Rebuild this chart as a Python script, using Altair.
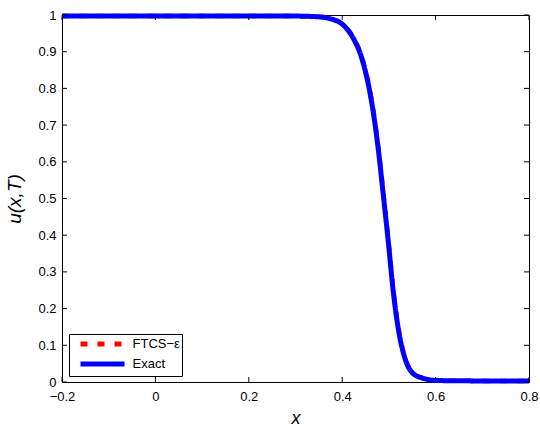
import altair as alt
import pandas as pd

# ---- data ----
series_names = ["FTCS\u2212\u03b5", "Exact"]

x_exact = [-0.2, 0.0, 0.2, 0.30, 0.35, 0.374, 0.402, 0.424, 0.442, 0.452, 0.463,
           0.477, 0.488, 0.500, 0.508, 0.520, 0.534, 0.552, 0.574, 0.602, 0.7, 0.8]
u_exact = [0.997, 0.997, 0.997, 0.997, 0.995, 0.990, 0.973, 0.936, 0.882, 0.834, 0.763,
           0.637, 0.510, 0.366, 0.262, 0.146, 0.066, 0.023, 0.010, 0.004, 0.003, 0.003]

x_ftcs = [-0.2, 0.0, 0.2, 0.30, 0.35, 0.374, 0.402, 0.424, 0.442, 0.452, 0.463,
          0.477, 0.488, 0.500, 0.508, 0.520, 0.534, 0.552, 0.574, 0.602, 0.7, 0.8]
u_ftcs = [0.997, 0.997, 0.997, 0.997, 0.995, 0.990, 0.974, 0.938, 0.885, 0.838, 0.768,
          0.643, 0.516, 0.372, 0.267, 0.150, 0.068, 0.024, 0.010, 0.004, 0.003, 0.003]

x_ticks = [-0.2, 0.0, 0.2, 0.4, 0.6, 0.8]
y_ticks = [0.0, 0.1, 0.2, 0.3, 0.4, 0.5, 0.6, 0.7, 0.8, 0.9, 1.0]

# ---- layout constants ----
W, H = 467, 367
TICK = 5
FONT = "Liberation Sans"

df = pd.concat([
    pd.DataFrame({"x": x_ftcs, "u": u_ftcs, "series": series_names[0]}),
    pd.DataFrame({"x": x_exact, "u": u_exact, "series": series_names[1]}),
], ignore_index=True)
xt = pd.DataFrame({"x": x_ticks})
yt = pd.DataFrame({"u": y_ticks})

xs = alt.Scale(domain=[-0.2, 0.8], nice=False, zero=False)
ys = alt.Scale(domain=[0, 1], nice=False, zero=False)

x_axis = alt.Axis(values=x_ticks, format=".1~f", title="x",
                  labelOverlap=False, labelFlush=False)
y_axis = alt.Axis(values=y_ticks, format=".1~f", title="u(x,T)",
                  labelOverlap=False, labelFlush=False, tickCount=11)

base = alt.Chart(df).encode(
    x=alt.X("x:Q", scale=xs, axis=x_axis),
    y=alt.Y("u:Q", scale=ys, axis=y_axis),
    color=alt.Color("series:N",
                    scale=alt.Scale(domain=series_names, range=["#ff0000", "#0000ff"]),
                    title=None,
                    legend=alt.Legend(orient="none", legendX=7, legendY=319)),
    strokeDash=alt.StrokeDash("series:N",
                              scale=alt.Scale(domain=series_names, range=[[7, 10], [1, 0]]),
                              title=None),
)

red = base.transform_filter(alt.datum.series == series_names[0]).mark_line(
    strokeWidth=4.5, interpolate="monotone")
blue = base.transform_filter(alt.datum.series == series_names[1]).mark_line(
    strokeWidth=5, interpolate="monotone")

tick_style = dict(color="black", strokeWidth=1)
xb = alt.Chart(xt).mark_rule(**tick_style).encode(
    x=alt.X("x:Q", scale=xs, axis=x_axis), y=alt.value(H), y2=alt.value(H - TICK))
xtop = alt.Chart(xt).mark_rule(**tick_style).encode(
    x=alt.X("x:Q", scale=xs, axis=x_axis), y=alt.value(0), y2=alt.value(TICK))
yl = alt.Chart(yt).mark_rule(**tick_style).encode(
    y=alt.Y("u:Q", scale=ys, axis=y_axis), x=alt.value(0), x2=alt.value(TICK))
yr = alt.Chart(yt).mark_rule(**tick_style).encode(
    y=alt.Y("u:Q", scale=ys, axis=y_axis), x=alt.value(W - TICK), x2=alt.value(W))

chart = alt.layer(red, blue, xb, xtop, yl, yr).properties(
    width=W, height=H,
    autosize="none",
    padding={"left": 62, "top": 15, "right": 11, "bottom": 46},
    background="white",
).configure_view(
    stroke="black", strokeWidth=1
).configure_axis(
    grid=False, ticks=False, domainColor="black", domainWidth=1,
    labelFont=FONT, labelFontSize=13, labelColor="black",
    labelOverlap=False, labelFlush=False, labelBound=False,
    titleFont=FONT, titleFontSize=18, titleFontStyle="italic",
    titleFontWeight="normal", titleColor="black",
).configure_axisX(
    labelPadding=8, titlePadding=6,
).configure_axisY(
    labelPadding=6, titlePadding=13, titleFontSize=19,
).configure_legend(
    fillColor="white", strokeColor="black", padding=2, cornerRadius=0,
    symbolType="M-4,0H4", symbolSize=121, symbolStrokeWidth=5,
    symbolOffset=23.5,
    labelFont=FONT, labelFontSize=13, labelColor="black", labelOffset=22,
    rowPadding=0,
)

chart.save("out.html", embed_options={"renderer": "svg", "actions": False})
